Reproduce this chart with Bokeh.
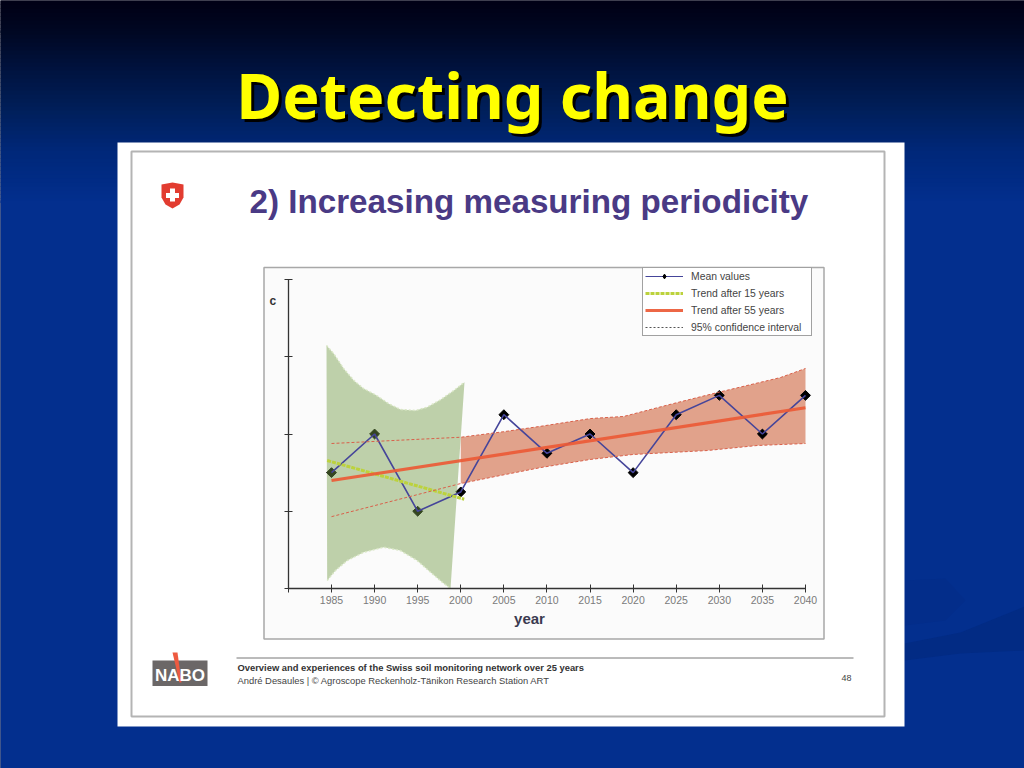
from bokeh.plotting import figure
from bokeh.embed import file_html
from bokeh.resources import INLINE
from bokeh.models import Range1d, LinearAxis, FixedTicker, Legend, LegendItem
from bokeh.core.properties import value
from math import pi, nan

# ---------- chart data ----------
title_text = "Detecting change"
subtitle_text = "2) Increasing measuring periodicity"
x_label = "year"
y_label = "c"
x_ticks = [1980, 1985, 1990, 1995, 2000, 2005, 2010, 2015, 2020, 2025, 2030, 2035, 2040]
y_ticks = [0, 1, 2, 3, 4]

mean_years = [1985, 1990, 1995, 2000, 2005, 2010, 2015, 2020, 2025, 2030, 2035, 2040]
mean_values = [1.50, 2.00, 1.00, 1.25, 2.25, 1.75, 2.00, 1.50, 2.25, 2.50, 2.00, 2.50]

trend15_years = [1984.5, 2000.4]
trend15_values = [1.657, 1.156]
trend55_years = [1985, 2040]
trend55_values = [1.398, 2.340]

ci15_upper_years = [1984.42, 1985.27, 1986.43, 1987.59, 1988.75, 1990.1, 1991.65, 1993.0, 1994.75, 1996.1, 1997.65, 1999.2, 2000.43]
ci15_upper = [3.146, 3.038, 2.844, 2.693, 2.585, 2.507, 2.391, 2.317, 2.304, 2.347, 2.443, 2.563, 2.671]
ci15_lower_years = [1984.5, 1985.46, 1986.82, 1988.75, 1991.07, 1993.0, 1994.94, 1996.49, 1997.85, 1998.81]
ci15_lower = [0.104, 0.233, 0.362, 0.470, 0.535, 0.492, 0.362, 0.211, 0.082, 0.0]

ci55_upper_years = [1985, 2000, 2005, 2009.3, 2015.05, 2018.9, 2024.7, 2029.8, 2037.1, 2040]
ci55_upper = [1.877, 1.958, 2.03, 2.10, 2.20, 2.227, 2.395, 2.537, 2.731, 2.848]
ci55_lower_years = [1985, 2000, 2004.6, 2009.3, 2015, 2020, 2028.6, 2034.4, 2040]
ci55_lower = [0.93, 1.359, 1.463, 1.566, 1.67, 1.735, 1.786, 1.851, 1.877]

legend_labels = ["Mean values", "Trend after 15 years", "Trend after 55 years", "95% confidence interval"]

footer_bold = "Overview and experiences of the Swiss soil monitoring network over 25 years"
footer_plain = "André Desaules | © Agroscope Reckenholz-Tänikon Research Station ART"
page_number = "48"

# ---------- calibration: reference pixels <-> data ----------
W, H = 1024, 768
X0_PX, PX_PER_YEAR = 331.0, 8.618
Y0_PX, PX_PER_UNIT = 588.0, 77.25
year_at = lambda px: 1985 + (px - X0_PX) / PX_PER_YEAR
val_at = lambda py: (Y0_PX - py) / PX_PER_UNIT

p = figure(width=W, height=H, output_backend="svg", toolbar_location=None,
           x_range=Range1d(year_at(0), year_at(W)),
           y_range=Range1d(val_at(H), val_at(0)),
           x_axis_type=None, y_axis_type=None, min_border=0,
           outline_line_color=None, background_fill_color="#000016",
           border_fill_color="#000016")
p.grid.visible = False
# second pair of ranges: plain page pixels, for the slide furniture
p.extra_x_ranges["px"] = Range1d(0, W)
p.extra_y_ranges["px"] = Range1d(H, 0)
PX = dict(x_range_name="px", y_range_name="px")

# ---------- slide background ----------
stops = [(0, (0, 0, 22)), (30, (0, 8, 35)), (70, (0, 20, 65)), (110, (0, 32, 92)),
         (150, (0, 40, 122)), (200, (3, 47, 142)), (768, (3, 47, 142))]
tops, bots, cols = [], [], []
for (y0, c0), (y1, c1) in zip(stops, stops[1:]):
    step = 4 if y1 <= 200 else y1 - y0
    for y in range(y0, y1, step):
        t = (y - y0) / (y1 - y0)
        tops.append(y); bots.append(y + step + 0.5)
        cols.append("#%02x%02x%02x" % tuple(int(a + (b - a) * t) for a, b in zip(c0, c1)))
tops[0] = -2
p.quad(left=-2, right=1026, top=tops, bottom=bots, fill_color=cols, line_color=None, **PX)
p.patch([904, 960, 1024, 1024, 960, 904], [643, 632, 606, 650, 653, 660],
        fill_color="#022b84", line_color=None, **PX)
p.patch([904, 945, 965, 945, 904], [580, 578, 600, 620, 625],
        fill_color="#032d8a", line_color=None, **PX)

# ---------- white slide panel, frames ----------
p.quad(left=117, right=904, top=142, bottom=726, fill_color="white", line_color=None, **PX)
p.quad(left=131, right=884, top=151, bottom=716, fill_color="white", line_color="#b4b4b4", line_width=2, **PX)
p.quad(left=263.5, right=823.5, top=267, bottom=638.5, fill_color="#fbfbfb", line_color="#a8a8a8", line_width=1.5, **PX)
p.line([236, 853], [657.5, 657.5], line_color="#777777", line_width=1, **PX)

# ---------- shield ----------
p.patch([161, 172, 183, 183, 179, 172, 165, 161], [184, 182, 184, 197, 204, 208, 204, 197],
        fill_color="#e23c30", line_color=None, **PX)
p.quad(left=[169.5, 165.5], right=[174.5, 178.5], top=[188, 192.5], bottom=[201, 197.5],
       fill_color="white", line_color=None, **PX)

# ---------- NABO logo ----------
p.quad(left=152, right=207, top=660, bottom=685.5, fill_color="#6b6767", line_color=None, **PX)
p.patch([172, 177, 181, 179], [652, 652, 682, 682], fill_color="#ee5a40", line_color=None, **PX)

# ---------- data marks ----------
red_x = ci55_upper_years[1:] + ci55_lower_years[:0:-1]
red_y = ci55_upper[1:] + ci55_lower[:0:-1]
p.patch(red_x, red_y, fill_color="#c13502", fill_alpha=0.45, line_color=None)

p.scatter(mean_years, mean_values, marker="square", angle=pi / 4, size=7,
          fill_color="black", line_color="black")

green_x = ci15_upper_years + ci15_lower_years[::-1]
green_y = ci15_upper + ci15_lower[::-1]
p.patch(green_x, green_y, fill_color="#749c47", fill_alpha=0.45, line_color=None)
p.line(ci15_upper_years, ci15_upper, line_color="#d8e6c4", line_width=1.5, line_dash="2 2")
p.line(ci15_lower_years, ci15_lower, line_color="#d8e6c4", line_width=1.5, line_dash="2 2")

mean_line = p.line(mean_years, mean_values, line_color="#45459a", line_width=1.6)
trend15 = p.line(trend15_years, trend15_values, line_color="#bcd23c", line_width=3, line_dash="4 1")
trend55 = p.line(trend55_years, trend55_values, line_color="#ec5a36", line_width=3.2, line_alpha=0.92)
p.line(ci55_upper_years, ci55_upper, line_color="#d9604a", line_width=1, line_dash="3 2")
p.line(ci55_lower_years, ci55_lower, line_color="#d9604a", line_width=1, line_dash="3 2")
# legend-only keys (no visible data)
ci_key = p.line([2000, 2001], [nan, nan], line_color="#555555", line_width=1, line_dash="2 2")
mean_key_line = p.line([2000, 2001], [nan, nan], line_color="#45459a", line_width=1)
mean_key_mark = p.scatter([2000], [nan], marker="diamond", size=8, fill_color="black", line_color="black")

# ---------- axes ----------
def style(ax):
    ax.axis_line_color = "#333333"
    ax.axis_line_width = 1.3
    ax.major_tick_line_color = "#333333"
    ax.major_tick_line_width = 1
    ax.major_tick_in = 4
    ax.major_tick_out = 4
    ax.minor_tick_line_color = None

xa = LinearAxis(ticker=FixedTicker(ticks=x_ticks), bounds=(x_ticks[0], x_ticks[-1]), fixed_location=y_ticks[0])
style(xa)
xa.major_label_overrides = {x_ticks[0]: ""}
xa.major_label_text_font = "Liberation Sans"
xa.major_label_text_font_size = "10.5px"
xa.major_label_text_color = "#7a7a7a"
xa.major_label_standoff = 3
p.add_layout(xa, "below")

ya = LinearAxis(ticker=FixedTicker(ticks=y_ticks), bounds=(y_ticks[0], y_ticks[-1]), fixed_location=x_ticks[0])
style(ya)
ya.major_label_overrides = {t: "" for t in y_ticks}
p.add_layout(ya, "left")

# ---------- legend ----------
legend = Legend(items=[
    LegendItem(label=legend_labels[0], renderers=[mean_key_line, mean_key_mark]),
    LegendItem(label=legend_labels[1], renderers=[trend15]),
    LegendItem(label=legend_labels[2], renderers=[trend55]),
    LegendItem(label=legend_labels[3], renderers=[ci_key]),
], location=(642, H - 336), orientation="vertical",
    background_fill_color="white", background_fill_alpha=1,
    border_line_color="#444444", border_line_width=1,
    label_text_font="Liberation Sans", label_text_font_size="10.4px", label_text_color="#444444",
    glyph_width=38, glyph_height=12, label_height=12, label_width=118, label_standoff=8,
    spacing=5, padding=2, margin=0)
p.add_layout(legend, "center")

# ---------- texts ----------
def txt(x, y, s, size, color, font="Liberation Sans", style="normal", align="left"):
    p.text([x], [y], text=[s], text_font=value(font), text_font_size=value(size), text_font_style=style,
           text_color=color, text_align=align, text_baseline="middle", **PX)

txt(515, 97, title_text, "62.8px", "#000000", "Noto Sans", "bold", "center")
txt(512, 94, title_text, "62.8px", "#ffff00", "Noto Sans", "bold", "center")
txt(249, 201, subtitle_text, "33.2px", "#4a3a85", style="bold")
txt(269, 300.5, y_label, "12px", "#333333", style="bold")
txt(529, 618, x_label, "15px", "#3a3a50", style="bold", align="center")
txt(237, 666.5, footer_bold, "9.4px", "#333333", style="bold")
txt(237, 680, footer_plain, "9.4px", "#444444")
txt(846, 677.5, page_number, "9px", "#444444", align="center")
txt(179.5, 675, "NABO", "17px", "white", style="bold", align="center")

open("out.html", "w").write(file_html(p, INLINE))
